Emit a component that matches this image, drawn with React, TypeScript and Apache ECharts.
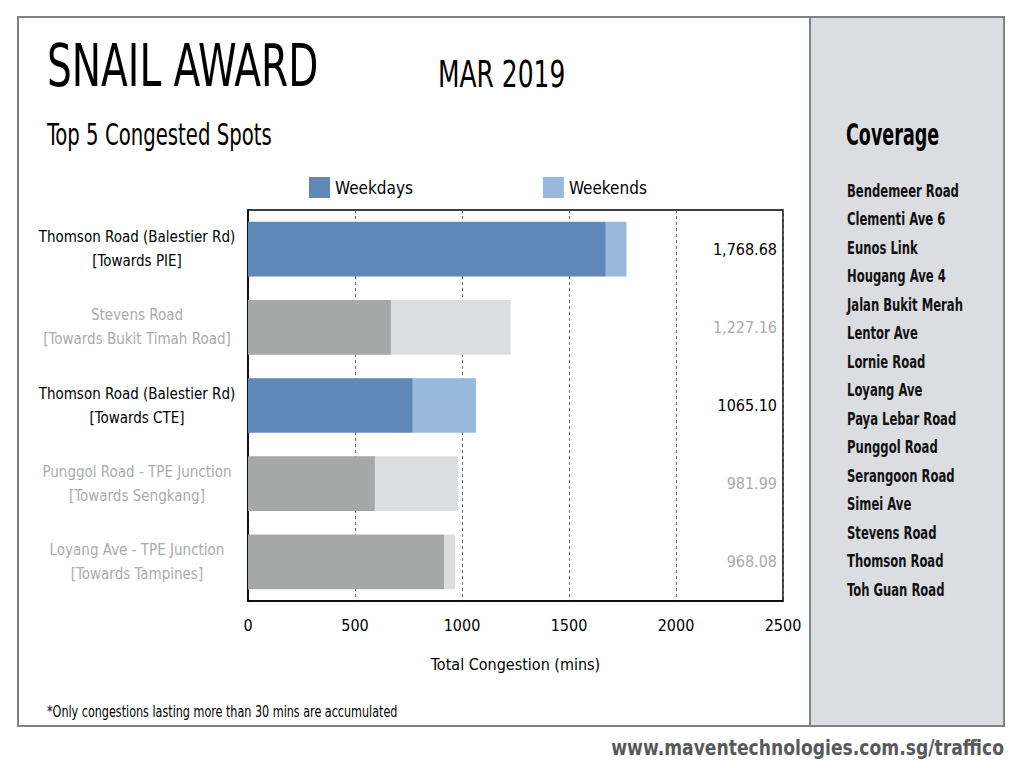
import React, { useEffect, useRef } from "react";
import * as echarts from "echarts";

const categories = [
  "Thomson Road (Balestier Rd)\n[Towards PIE]",
  "Stevens Road\n[Towards Bukit Timah Road]",
  "Thomson Road (Balestier Rd)\n[Towards CTE]",
  "Punggol Road - TPE Junction\n[Towards Sengkang]",
  "Loyang Ave - TPE Junction\n[Towards Tampines]",
];
const highlighted = [true, false, true, false, false];
const weekdays = [1672, 668, 770, 593, 916];
const weekends = [96.68, 559.16, 295.1, 388.99, 52.08];
const totalLabels = ["1,768.68", "1,227.16", "1065.10", "981.99", "968.08"];
const coverage = [
  "Bendemeer Road",
  "Clementi Ave 6",
  "Eunos Link",
  "Hougang Ave 4",
  "Jalan Bukit Merah",
  "Lentor Ave",
  "Lornie Road",
  "Loyang Ave",
  "Paya Lebar Road",
  "Punggol Road",
  "Serangoon Road",
  "Simei Ave",
  "Stevens Road",
  "Thomson Road",
  "Toh Guan Road",
];

const FONT = "'DejaVu Sans Condensed', 'Open Sans', sans-serif";
const BLUE = "#5f87b8";
const LBLUE = "#97b9dc";
const GRAY = "#a5a8a7";
const LGRAY = "#dcdddf";
const TXTGRAY = "#a9abad";

function txt(text: string, x: number, y: number, size: number, sx: number, opts: any = {}) {
  return {
    type: "text",
    x,
    y,
    scaleX: sx,
    style: {
      text,
      font: `${opts.bold ? "bold " : ""}${size}px ${FONT}`,
      fill: opts.fill || "#000",
      align: opts.align || "left",
      verticalAlign: "middle",
    },
  };
}

export default function App() {
  const ref = useRef<HTMLDivElement>(null);
  useEffect(() => {
    const chart = echarts.init(ref.current!, null, { renderer: "svg" });
    const graphic: any[] = [
      { type: "rect", z: -10, shape: { x: 18, y: 17, width: 986, height: 709 }, style: { fill: "#ffffff", stroke: "#808285", lineWidth: 2 } },
      { type: "rect", z: -9, shape: { x: 810, y: 17, width: 194, height: 709 }, style: { fill: "#dcdde0", stroke: "#808285", lineWidth: 2 } },
      txt("SNAIL AWARD", 47, 66, 58, 0.75),
      txt("MAR 2019", 438, 74, 38, 0.73),
      txt("Top 5 Congested Spots", 47, 135, 30, 0.73),
      txt("Coverage", 846, 135, 30, 0.65, { bold: true }),
      txt("*Only congestions lasting more than 30 mins are accumulated", 47, 712, 15, 0.83),
      txt("www.maventechnologies.com.sg/traffico", 1004, 748, 21, 0.91, { bold: true, fill: "#58595b", align: "right" }),
    ];
    coverage.forEach((c, i) => {
      graphic.push(txt(c, 847, 191 + i * 28.5, 17, 0.76, { bold: true, fill: "#111" }));
    });
    chart.setOption({
      animation: false,
      textStyle: { fontFamily: FONT },
      graphic,
      legend: {
        left: 304,
        top: 172,
        itemWidth: 21,
        itemHeight: 21,
        itemGap: 130,
        icon: "rect",
        textStyle: { fontSize: 17, color: "#000", fontFamily: FONT },
        data: ["Weekdays", "Weekends"],
      },
      grid: { left: 248, top: 210, width: 535, height: 391, show: true, borderColor: "#000", borderWidth: 1.5, backgroundColor: "transparent" },
      xAxis: {
        type: "value",
        min: 0,
        max: 2500,
        interval: 500,
        name: "Total Congestion (mins)",
        nameLocation: "middle",
        nameGap: 55,
        nameTextStyle: { fontSize: 16, color: "#000", fontFamily: FONT },
        axisLine: { show: true, lineStyle: { color: "#000", width: 1.5 } },
        axisTick: { show: false },
        axisLabel: { fontSize: 16, color: "#000", margin: 16, fontFamily: FONT, formatter: (v: number) => String(v) },
        splitLine: { show: true, lineStyle: { type: [3, 3], color: "#666", width: 1 } },
      },
      yAxis: [
        {
          type: "category",
          data: categories,
          inverse: true,
          axisLine: { show: true, lineStyle: { color: "#000", width: 1.5 } },
          axisTick: { show: false },
          axisLabel: {
            margin: 111,
            align: "center",
            fontSize: 15,
            lineHeight: 24,
            padding: [5, 0, 0, 0],
            fontFamily: FONT,
            color: ((_v: string, i: number) => (highlighted[i] ? "#000" : TXTGRAY)) as any,
          },
        },
        {
          type: "category",
          data: totalLabels,
          inverse: true,
          position: "right",
          axisLine: { show: false },
          axisTick: { show: false },
          axisLabel: {
            inside: true,
            margin: 6,
            fontSize: 16,
            fontFamily: FONT,
            color: ((_v: string, i: number) => (highlighted[i] ? "#000" : TXTGRAY)) as any,
          },
        },
      ],
      series: [
        {
          name: "Weekdays",
          type: "bar",
          stack: "t",
          barWidth: "70%",
          itemStyle: { color: BLUE },
          data: weekdays.map((v, i) => ({ value: v, itemStyle: { color: highlighted[i] ? BLUE : GRAY } })),
        },
        {
          name: "Weekends",
          type: "bar",
          stack: "t",
          barWidth: "70%",
          itemStyle: { color: LBLUE },
          data: weekends.map((v, i) => ({ value: v, itemStyle: { color: highlighted[i] ? LBLUE : LGRAY } })),
        },
      ],
    });
    return () => chart.dispose();
  }, []);
  return <div ref={ref} style={{ position: "fixed", left: 0, top: 0, width: 1024, height: 768, background: "#fff" }} />;
}
